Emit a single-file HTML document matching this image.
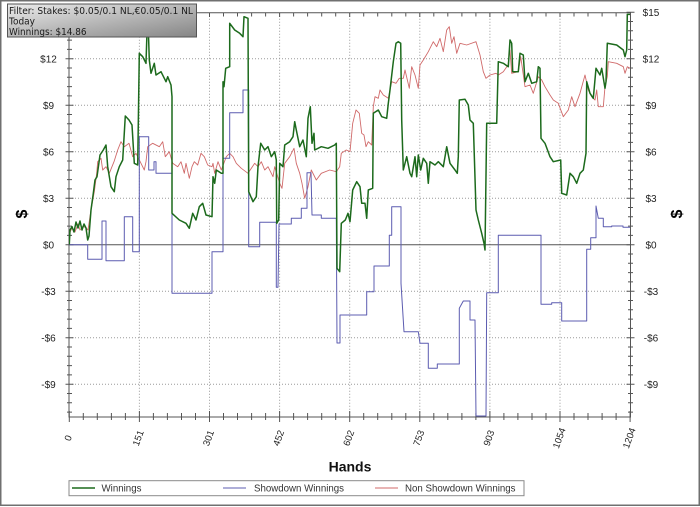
<!DOCTYPE html>
<html><head><meta charset="utf-8"><style>
html,body{margin:0;padding:0;background:#fff;}
svg{display:block;}
</style></head><body>
<svg width="700" height="507" viewBox="0 0 700 507" xmlns="http://www.w3.org/2000/svg">
<defs>
<clipPath id="pc"><rect x="69" y="12.5" width="561.5" height="404.5"/></clipPath>
<linearGradient id="fg" x1="0" y1="0" x2="1" y2="1">
<stop offset="0" stop-color="#ececec"/><stop offset="1" stop-color="#858585"/>
</linearGradient>
</defs>
<rect x="0" y="0" width="700" height="507" fill="#fff"/>
<rect x="0.75" y="0.75" width="698.5" height="504.5" fill="none" stroke="#707070" stroke-width="1.5"/>

<!-- grid -->
<g stroke="#9a9a9a" stroke-width="1" stroke-dasharray="1,2" fill="none">
<path d="M69 58.7H630M69 105.2H630M69 151.7H630M69 198.2H630M69 291.2H630M69 337.7H630M69 384.2H630"/>
<path d="M139.4 12.7V417M209.5 12.7V417M279.6 12.7V417M349.7 12.7V417M419.8 12.7V417M489.9 12.7V417M560 12.7V417"/>
</g>
<path d="M69 244.7H630" stroke="#555" stroke-width="1"/>

<!-- axes -->
<g stroke="#555" stroke-width="1" fill="none">
<path d="M69 12.7V417H630.5V12.7H69"/>
<!-- left minor ticks -->
<path d="M67 21.5H72M67 30.8H72M67 40.1H72M67 49.4H72M67 68H72M67 77.3H72M67 86.6H72M67 95.9H72M67 114.5H72M67 123.8H72M67 133.1H72M67 142.4H72M67 161H72M67 170.3H72M67 179.6H72M67 188.9H72M67 207.5H72M67 216.8H72M67 226.1H72M67 235.4H72M67 254H72M67 263.3H72M67 272.6H72M67 281.9H72M67 300.5H72M67 309.8H72M67 319.1H72M67 328.4H72M67 347H72M67 356.3H72M67 365.6H72M67 374.9H72M67 393.5H72M67 402.8H72M67 412.1H72"/>
<path d="M65.5 12.2H73.5M65.5 58.7H73.5M65.5 105.2H73.5M65.5 151.7H73.5M65.5 198.2H73.5M65.5 244.7H73.5M65.5 291.2H73.5M65.5 337.7H73.5M65.5 384.2H73.5"/>
<!-- right ticks -->
<path d="M628 21.5H633M628 30.8H633M628 40.1H633M628 49.4H633M628 68H633M628 77.3H633M628 86.6H633M628 95.9H633M628 114.5H633M628 123.8H633M628 133.1H633M628 142.4H633M628 161H633M628 170.3H633M628 179.6H633M628 188.9H633M628 207.5H633M628 216.8H633M628 226.1H633M628 235.4H633M628 254H633M628 263.3H633M628 272.6H633M628 281.9H633M628 300.5H633M628 309.8H633M628 319.1H633M628 328.4H633M628 347H633M628 356.3H633M628 365.6H633M628 374.9H633M628 393.5H633M628 402.8H633M628 412.1H633"/>
<path d="M626.5 12.2H634.5M626.5 58.7H634.5M626.5 105.2H634.5M626.5 151.7H634.5M626.5 198.2H634.5M626.5 244.7H634.5M626.5 291.2H634.5M626.5 337.7H634.5M626.5 384.2H634.5"/>
<!-- bottom minor ticks -->
<path d="M83.3 413V420M97.3 413V420M111.4 413V420M125.4 413V420M153.4 413V420M167.4 413V420M181.5 413V420M195.5 413V420M223.5 413V420M237.5 413V420M251.6 413V420M265.6 413V420M293.6 413V420M307.6 413V420M321.7 413V420M335.7 413V420M363.7 413V420M377.7 413V420M391.8 413V420M405.8 413V420M433.8 413V420M447.8 413V420M461.9 413V420M475.9 413V420M503.9 413V420M517.9 413V420M532 413V420M546 413V420M574 413V420M588 413V420M602.1 413V420M616.1 413V420"/>
<path d="M69.3 411V422M139.4 411V422M209.5 411V422M279.6 411V422M349.7 411V422M419.8 411V422M489.9 411V422M560 411V422M630.1 411V422"/>
<!-- top ticks -->
<path d="M83.3 12.7V16.5M97.3 12.7V16.5M111.4 12.7V16.5M125.4 12.7V16.5M139.4 12.7V17M153.4 12.7V16.5M167.4 12.7V16.5M181.5 12.7V16.5M195.5 12.7V16.5M209.5 12.7V17M223.5 12.7V16.5M237.5 12.7V16.5M251.6 12.7V16.5M265.6 12.7V16.5M279.6 12.7V17M293.6 12.7V16.5M307.6 12.7V16.5M321.7 12.7V16.5M335.7 12.7V16.5M349.7 12.7V17M363.7 12.7V16.5M377.7 12.7V16.5M391.8 12.7V16.5M405.8 12.7V16.5M419.8 12.7V17M433.8 12.7V16.5M447.8 12.7V16.5M461.9 12.7V16.5M475.9 12.7V16.5M489.9 12.7V17M503.9 12.7V16.5M517.9 12.7V16.5M532 12.7V16.5M546 12.7V16.5M560 12.7V17M574 12.7V16.5M588 12.7V16.5M602.1 12.7V16.5M616.1 12.7V16.5"/>
</g>

<!-- series -->
<g clip-path="url(#pc)" fill="none" stroke-linejoin="round">
<polyline stroke="#d06a6a" stroke-width="0.9" points="69.3,244.5 70,232 72,228 75,232 78,224 80,230 83,226 86,228 88,230 91,210 94.3,191.7 96.7,173.3 97.7,161.7 101,158.3 102.7,170 106,166.7 109.3,173.3 114,161.7 117.7,150 121,141.7 124.3,146.7 129,143.3 132.7,156.7 136,153.3 141,163.3 144.3,170 146,161.7 147.7,146.7 152.7,143.3 159.3,146.7 162.7,141.7 165.3,156.7 169.3,151.7 172.7,163.3 177.7,166.7 181,161.7 184.3,173.3 186,163.3 189.3,178.3 192,166.7 194.3,161.7 197.7,165 201,153.3 204.3,156.7 207.7,165 212,166.7 213,163.3 214.7,173.3 218,161.7 221.3,170 226.3,156.7 229.7,153.3 233,156.7 236.3,163.3 241.3,168.3 248,173.3 254.7,163.3 258,166.7 261.3,161.7 264.7,170 268,166.7 273,176.7 274.7,166.7 279.7,183.3 282,188.3 284.7,163.3 289.7,156.7 294,148.3 296.3,163.3 299.7,173.3 302,183.3 304.7,198.3 308,186.7 311.3,170 316.3,180 321.3,173.3 329.7,170 336.3,171.7 339.7,166.7 341.3,153.3 346.3,150 350,151.7 352.7,123.3 356,110 359.3,113.3 361.7,133.3 364,135 366,146.7 368.3,141.7 371.7,145 373.3,106.7 375,96.7 378.3,98.3 380,90 383.3,95 388.3,98.3 391.7,81.7 396,83.3 399.3,78.3 403.3,78.3 405,70 409.3,88.3 411.7,66.7 415,75 418.3,88.3 420,65 423.3,60 428.3,51.7 433.3,41.7 436.7,46.7 440,38.3 443.3,51.7 446.7,30 449.3,26.7 451.7,43.3 454,36.7 456.7,53.3 460,43.3 466.7,45 476,41.7 480,55 483.3,71.7 486,78.3 490,75 496,73.3 498.3,75 503.3,71.7 508,65 510,50 511.7,73.3 518.3,71.7 520.7,56.7 525,86.7 530,85 533.3,93.3 538.3,76.7 541.7,80 545,86.7 550,95 553.3,100 558.3,103.3 563.3,116.7 568.3,110 571.7,96.7 575,106.7 580,93.3 585,75 588.3,90 591.7,96.7 595,100 596.7,90 598.3,106.7 603.3,106.7 605,86.7 607.3,76.7 608.3,61.7 616.7,63.3 623.3,66.7 625,73.3 627.3,66.7 630,68.3"/>
<polyline stroke="#5c5cb0" stroke-width="1" points="69.3,244.7 87.7,244.7 87.7,259.3 102,259.3 102,221 106,221 106,260.7 124.3,260.7 124.3,216.7 132.7,216.7 132.7,251.7 139.3,251.7 139.3,136.7 148.7,136.7 148.7,170 154,170 154,161.7 156,161.7 156,173.3 172,173.3 172,293.3 212,293.3 212,251.7 223,251.7 223,158.3 229.7,158.3 229.7,112.7 243,112.7 243,90 248.7,90 248.7,246.7 259.7,246.7 259.7,222.3 276.3,222.3 276.3,287.3 278,287.3 279,224 291.3,224 291.3,218.3 301.3,218.3 301.3,208.3 307,208.3 307,172.7 311,172.7 312,215 321.3,215 321.3,218.3 336.3,218.3 337,343 340,343 340,315 366.7,315 366.7,291.7 374,291.7 374,266 389.3,266 389.3,235.3 391.7,235.3 391.7,206.7 401,206.7 401,283.3 404,331.7 418.3,331.7 420,343.3 428.3,343.3 428.3,368.3 437.3,368.3 437.3,364 459.3,364 459.3,308.3 463.3,301 470,301 470,320 475,320 476,416 486,416 486.7,292.7 498.3,292.7 498.3,235.3 541,235.3 541,304.3 551.7,304.3 551.7,302.7 561.7,302.7 561.7,321 586.7,321 586.7,249.3 590.7,249.3 590.7,237.7 596,237.7 596,206 598.3,218.3 603.3,218.3 603.3,226.7 611.7,226.7 611.7,226 623,226 623,227.3 630,227.3"/>
<polyline stroke="#1c6a1c" stroke-width="1.5" points="69.3,244.5 70,230 72,226.7 74,232 76,222 78,228 80,221 82,230 84,224 86,228 87.7,240 89,236 91,210 93.3,193.3 95,180 97,176.7 100,155 103.3,150 106,145 107.7,166.7 111,186.7 114.3,191.7 116,176.7 119.3,166.7 122.7,160 125.3,116 129,120 132,125 134.3,163.3 137.7,165 139.3,53.3 142.7,56.7 146,63.3 147.7,10 149.3,60 151,73.3 154.3,63.3 156,75 161,71.7 166,81.7 167.7,76.7 171,85 172,96.7 172,213.3 179.3,220 186,223.3 189.3,228.3 192.7,213.3 196,220 199.3,206.7 202.7,203.3 206,215 212,216.7 213,176.7 214.7,183.3 216.3,170 221.3,173.3 223,173.3 223,81.7 224,86.7 225.7,68.3 229.7,66.7 229.7,23.3 234.7,30 239.7,33.3 243,36.7 244,16.7 248,18.3 248.7,191.7 253,201.7 256.3,196.7 258,166.7 260.7,143.3 264.7,150 268,146.7 271.3,156.7 274.7,151.7 276.3,160 276.7,223.3 278.7,220 279.7,163.3 283,166.7 284.7,145 289.7,141.7 293,136.7 294.7,121.7 296.3,130 299.7,146.7 303,140 306.3,156.7 308,118.3 310.3,106.7 312,143.3 314,133.3 314.7,150 321.3,146.7 328,148.3 334.7,145 336.3,143.3 337,268.3 339.7,271.7 341.3,223.3 345.3,220 348,213.3 350,221.7 352.7,190 356.7,181.7 360,186.7 361.7,203.3 365,203.3 366.7,218.3 368.3,190 372.7,188.3 373.3,113.3 378.3,110 381.7,116.7 386.7,118.3 388.3,103.3 390,90 393.3,61.7 396,43.3 398.3,41.7 400.7,43.3 401.7,120 403.3,170 406.7,156.7 410,173.3 411.7,176.7 415,156.7 416.7,176.7 418.3,155 420.7,170 423.3,158.3 426.7,163.3 428.3,183.3 430,161.7 435,165 438.3,161.7 443.3,166.7 446.7,146.7 450,163.3 455,170 457.3,173.3 458.3,156.7 459.3,100 465,99.3 468.3,105 470,120 473.3,123.3 476,210 478.3,220 481.7,233.3 484,243.3 485,250 486.7,123.3 496.7,123.3 498.3,61.7 503.3,63.3 508.3,66.7 510,40 511.7,43.3 512.7,71.7 518.3,71.7 520,53.3 523.3,55 525,81.7 528.3,73.3 531.7,83.3 536.7,81.7 538.3,66.7 540,68.3 541,138.3 545,143.3 550,156.7 553.3,161.7 560.7,160 561.7,193.3 566.7,195 570,173.3 573.3,176.7 576.7,183.3 580,173.3 583.3,170 586,153.3 586.7,81.7 590,93.3 593.3,98.3 596,68.3 600,75 601.7,68.3 605,88.3 606,81.7 607.3,43.3 616.7,45 623.3,50 625,56.7 626.7,50 627.3,14.4 630,14.4"/>
</g>

<!-- y labels -->
<g font-family="Liberation Sans, Arial, sans-serif" font-size="10" fill="#222" text-anchor="middle">
<text x="48.5" y="62.3">$12</text>
<text x="48.5" y="108.8">$9</text>
<text x="48.5" y="155.3">$6</text>
<text x="48.5" y="201.8">$3</text>
<text x="48.5" y="248.3">$0</text>
<text x="48.5" y="294.8">-$3</text>
<text x="48.5" y="341.3">-$6</text>
<text x="48.5" y="387.8">-$9</text>
<text x="651" y="15.8">$15</text>
<text x="651" y="62.3">$12</text>
<text x="651" y="108.8">$9</text>
<text x="651" y="155.3">$6</text>
<text x="651" y="201.8">$3</text>
<text x="651" y="248.3">$0</text>
<text x="651" y="294.8">-$3</text>
<text x="651" y="341.3">-$6</text>
<text x="651" y="387.8">-$9</text>
</g>
<g font-family="Liberation Sans, Arial, sans-serif" font-size="16" font-weight="bold" fill="#000" text-anchor="middle">
<text transform="translate(21.7,214) rotate(-90)" y="5.5">$</text>
<text transform="translate(676.7,214) rotate(-90)" y="5.5">$</text>
</g>

<!-- x labels -->
<g font-family="Liberation Sans, Arial, sans-serif" font-size="9.5" fill="#222" text-anchor="middle">
<text transform="translate(68,438) rotate(-70)" y="3.4">0</text>
<text transform="translate(138,438) rotate(-70)" y="3.4">151</text>
<text transform="translate(208.3,438) rotate(-70)" y="3.4">301</text>
<text transform="translate(278.4,438) rotate(-70)" y="3.4">452</text>
<text transform="translate(348.5,438) rotate(-70)" y="3.4">602</text>
<text transform="translate(418.6,438) rotate(-70)" y="3.4">753</text>
<text transform="translate(488.7,438) rotate(-70)" y="3.4">903</text>
<text transform="translate(559,438) rotate(-70)" y="3.4">1054</text>
<text transform="translate(629,438) rotate(-70)" y="3.4">1204</text>
</g>
<text x="350" y="471.5" font-family="Liberation Sans, Arial, sans-serif" font-size="14" font-weight="bold" fill="#111" text-anchor="middle">Hands</text>

<!-- legend -->
<rect x="69" y="480.7" width="455" height="15" fill="#fff" stroke="#8a8a8a" stroke-width="1"/>
<path d="M72 488H95" stroke="#1c6a1c" stroke-width="1.5"/>
<path d="M223 488H246" stroke="#5c5cb0" stroke-width="1"/>
<path d="M375 488H398" stroke="#d06a6a" stroke-width="1"/>
<g font-family="Liberation Sans, Arial, sans-serif" font-size="10" fill="#333">
<text x="101.5" y="491.5" textLength="40" lengthAdjust="spacingAndGlyphs">Winnings</text>
<text x="254" y="491.5" textLength="90" lengthAdjust="spacingAndGlyphs">Showdown Winnings</text>
<text x="405" y="491.5" textLength="110.5" lengthAdjust="spacingAndGlyphs">Non Showdown Winnings</text>
</g>

<!-- filter box -->
<rect x="7.5" y="4" width="189" height="33" fill="url(#fg)" stroke="#555" stroke-width="1"/>
<g font-family="DejaVu Sans, Verdana, sans-serif" font-size="10" fill="#1a1a1a">
<text x="9" y="14" textLength="184" lengthAdjust="spacingAndGlyphs">Filter: Stakes: $0.05/0.1 NL,€0.05/0.1 NL</text>
<text x="9" y="24.5" textLength="26" lengthAdjust="spacingAndGlyphs">Today</text>
<text x="9" y="35" textLength="77.5" lengthAdjust="spacingAndGlyphs">Winnings: $14.86</text>
</g>
</svg>
</body></html>
